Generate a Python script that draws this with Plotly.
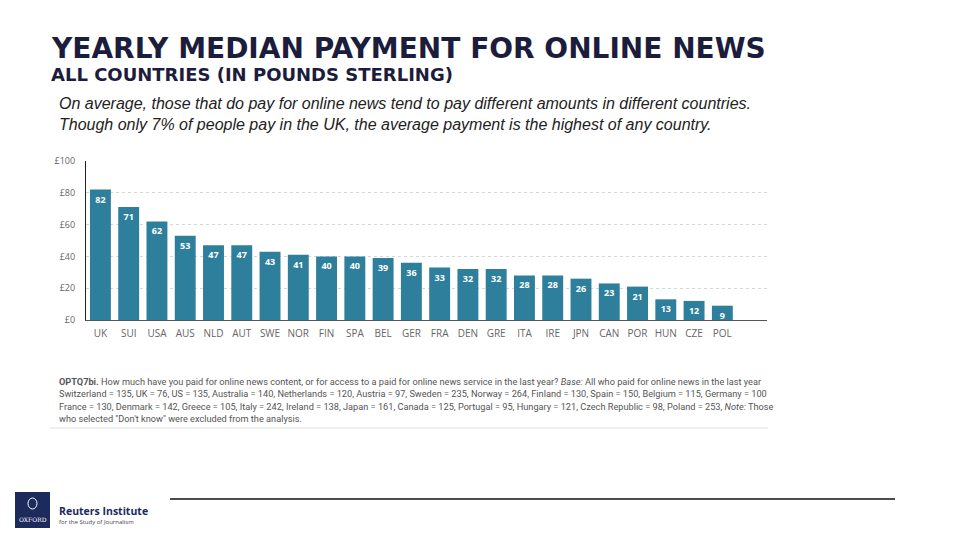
import plotly.graph_objects as go

countries = ["UK", "SUI", "USA", "AUS", "NLD", "AUT", "SWE", "NOR", "FIN", "SPA", "BEL", "GER",
             "FRA", "DEN", "GRE", "ITA", "IRE", "JPN", "CAN", "POR", "HUN", "CZE", "POL"]
payments = [82, 71, 62, 53, 47, 47, 43, 41, 40, 40, 39, 36, 33, 32, 32, 28, 28, 26, 23, 21, 13, 12, 9]
y_ticks = [0, 20, 40, 60, 80, 100]
y_tick_labels = ["£0", "£20", "£40", "£60", "£80", "£100"]

title = "YEARLY MEDIAN PAYMENT FOR ONLINE NEWS"
subtitle = "ALL COUNTRIES (IN POUNDS STERLING)"
intro = ["On average, those that do pay for online news tend to pay different amounts in different countries.",
         "Though only 7% of people pay in the UK, the average payment is the highest of any country."]
footnote = [
    "<b>OPTQ7bi.</b> How much have you paid for online news content, or for access to a paid for online news service in the last year? <i>Base:</i> All who paid for online news in the last year",
    "Switzerland = 135, UK = 76, US = 135, Australia = 140, Netherlands = 120, Austria = 97, Sweden = 235, Norway = 264, Finland = 130, Spain = 150, Belgium = 115, Germany = 100",
    "France = 130, Denmark = 142, Greece = 105, Italy = 242, Ireland = 138, Japan = 161, Canada = 125, Portugal = 95, Hungary = 121, Czech Republic = 98, Poland = 253, <i>Note:</i> Those",
    "who selected \"Don't know\" were excluded from the analysis.",
]

OFF = 8  # page body margin
W, H = 960 - OFF, 540 - OFF
L, R, T, B = 86 - OFF, 767 - OFF, 161 - OFF, 320 - OFF


def px(x):
    return (x - OFF - L) / (R - L)


def py(y):
    return (B - (y - OFF)) / (B - T)


BAR = "#2e7f9c"
NAVY = "#1c1c3c"

fig = go.Figure()
fig.add_trace(go.Bar(
    x=countries, y=payments, marker_color=BAR, marker_line_width=0,
    text=[str(v) for v in payments], textposition="inside", insidetextanchor="end",
    constraintext="none",
    textfont=dict(family="Open Sans", size=9, color="white", weight="bold"),
    textangle=0, hoverinfo="skip",
))

fig.update_layout(
    width=W, height=H,
    margin=dict(l=L, r=W - R, t=T, b=H - B),
    paper_bgcolor="white", plot_bgcolor="white",
    showlegend=False, bargap=0.26,
    font=dict(family="Open Sans", color="#555"),
    xaxis=dict(range=[-0.51, 23.58], showgrid=False, showline=True, linecolor="#555", linewidth=1,
               tickfont=dict(family="Open Sans", size=10, color="#666"), ticks="", ticklabelstandoff=4,
               fixedrange=True),
    yaxis=dict(range=[0, 100], tickvals=y_ticks, ticktext=y_tick_labels, showgrid=True, gridcolor="#d6d6d6",
               griddash="dot", gridwidth=1, showline=True, linecolor="#222", linewidth=1.2, zeroline=False,
               tickfont=dict(family="Open Sans", size=9, color="#666"), ticks="", ticklabelstandoff=8,
               fixedrange=True),
)

ann = []
ann.append(dict(x=px(49), y=py(30), text=title, xanchor="left", yanchor="top",
                font=dict(family="DejaVu Sans", size=28, color=NAVY, weight="bold")))
ann.append(dict(x=px(49), y=py(62), text=subtitle, xanchor="left", yanchor="top",
                font=dict(family="DejaVu Sans", size=18, color=NAVY, weight="bold")))
for i, line in enumerate(intro):
    ann.append(dict(x=px(57), y=py(103 + 21 * i), text=line, xanchor="left", yanchor="middle",
                    font=dict(family="Liberation Sans", size=16, color="#222", style="italic")))
for i, line in enumerate(footnote):
    ann.append(dict(x=px(57), y=py(381 + 12.5 * i), text=line, xanchor="left", yanchor="middle",
                    font=dict(family="Roboto", size=9.2, color="#555")))
ann.append(dict(x=px(57), y=py(511), text="Reuters Institute", xanchor="left", yanchor="middle",
                font=dict(family="Open Sans", size=10.5, color="#1c2a5c", weight="bold")))
ann.append(dict(x=px(57), y=py(522), text="for the Study of Journalism", xanchor="left", yanchor="middle",
                font=dict(family="Open Sans", size=6, color="#444")))
ann.append(dict(x=px(32.5), y=py(520), text="OXFORD", xanchor="center", yanchor="middle",
                font=dict(family="DejaVu Serif", size=6, color="white")))
for a in ann:
    a.update(xref="paper", yref="paper", showarrow=False, align="left")
fig.update_layout(annotations=ann)

shapes = [
    dict(type="line", x0=px(50), x1=px(768), y0=py(428), y1=py(428), line=dict(color="#e2e2e2", width=1)),
    dict(type="line", x0=px(170), x1=px(895), y0=py(499), y1=py(499), line=dict(color="#111", width=1.5)),
    dict(type="rect", x0=px(15), x1=px(50), y0=py(528), y1=py(492), fillcolor="#1c2a5c", line_width=0),
    dict(type="circle", x0=px(28), x1=px(37), y0=py(509), y1=py(498), line=dict(color="white", width=1)),
]
for s in shapes:
    s.update(xref="paper", yref="paper", layer="above")
fig.update_layout(shapes=shapes)

fig.write_html("out.html")
